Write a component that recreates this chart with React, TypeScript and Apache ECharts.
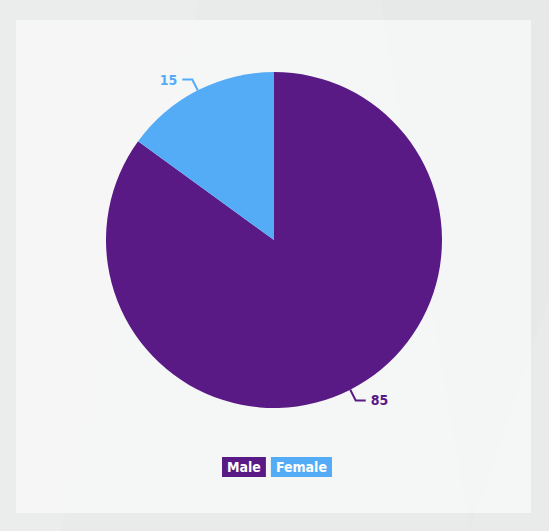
import React, { useEffect, useRef } from "react";
import * as echarts from "echarts";

const categories = ["Male", "Female"];
const values = [85, 15];
const colors = ["#5a1a86", "#55acf6"];

export default function App() {
  const ref = useRef<HTMLDivElement>(null);
  useEffect(() => {
    if (!ref.current) return;
    const chart = echarts.init(ref.current, null, { renderer: "svg" });
    const font = "'DejaVu Sans Condensed', 'Noto Sans', sans-serif";
    chart.setOption({
      animation: false,
      backgroundColor: "#e9eaea",
      graphic: [
        { type: "polygon", shape: { points: [[0, 0], [200, 0], [60, 531], [0, 531]] }, style: { fill: "rgba(255,255,255,0.12)" }, z: -2 },
        { type: "polygon", shape: { points: [[380, 0], [549, 0], [549, 300], [470, 531]] }, style: { fill: "rgba(0,0,0,0.008)" }, z: -2 },
        { type: "rect", shape: { x: 16, y: 20, width: 515, height: 493 }, style: { fill: "rgba(255,255,255,0.55)" }, z: -1 },
      ],
      legend: {
        top: 457,
        left: "center",
        icon: "none",
        itemWidth: 0,
        itemHeight: 0,
        itemGap: 0,
        padding: 0,
        selectedMode: false,
        data: categories.map((c, i) => ({
          name: c,
          textStyle: {
            color: "#ffffff",
            backgroundColor: colors[i],
            padding: [3, 5, 2, 5],
            fontFamily: font,
            fontWeight: "bold",
            fontSize: 14,
            lineHeight: 15,
          },
        })),
      },
      series: [
        {
          type: "pie",
          center: [274, 240],
          radius: [0, 168],
          startAngle: 90,
          clockwise: true,
          color: colors,
          data: categories.map((c, i) => ({ name: c, value: values[i] })),
          label: {
            show: true,
            formatter: "{c}",
            color: "inherit",
            fontFamily: font,
            fontWeight: "bold",
            fontSize: 14,
          },
          labelLine: {
            show: true,
            length: 12,
            length2: 10,
            lineStyle: { width: 2 },
          },
          emphasis: { disabled: true },
        },
      ],
    });
    return () => chart.dispose();
  }, []);
  return (
    <div
      ref={ref}
      style={{ position: "fixed", left: 0, top: 0, width: 549, height: 531 }}
    />
  );
}
